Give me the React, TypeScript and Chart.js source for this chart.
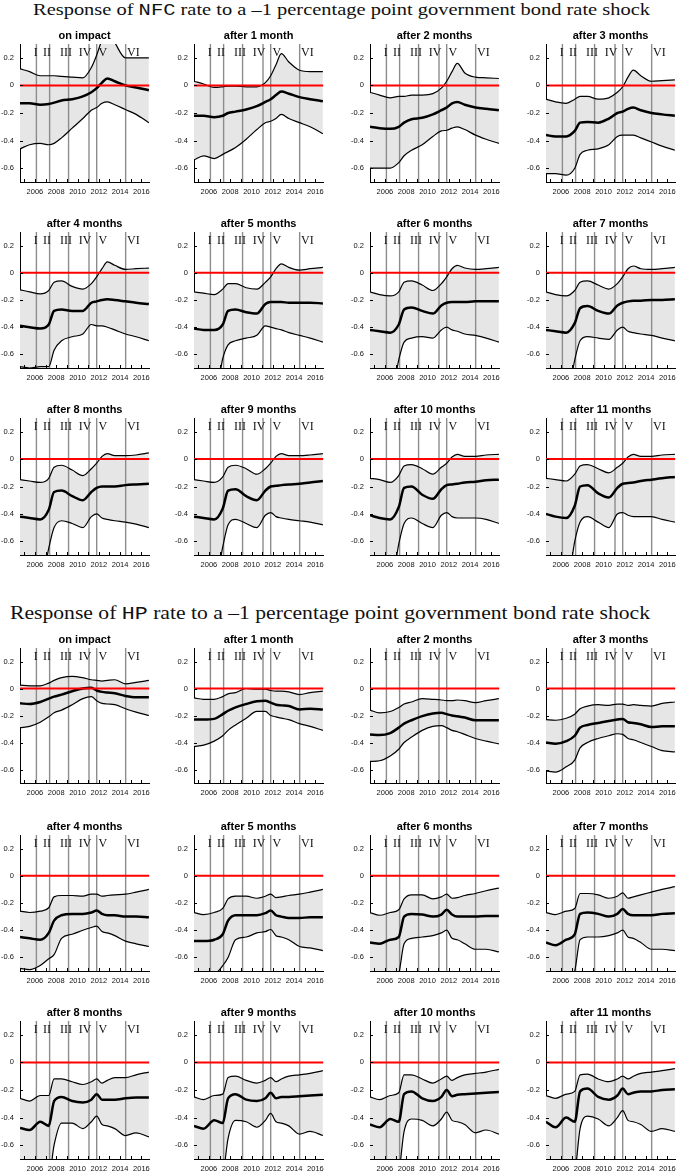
import { useEffect, useLayoutEffect, useRef } from "react";
import { Chart, registerables } from "chart.js";

Chart.register(...registerables);

const years = [2004.6, 2005.5, 2006.5, 2007.3, 2007.8, 2008.5, 2009.5, 2010.5, 2011.3, 2011.8, 2012.3, 2012.8, 2013.5, 2014.5, 2015.5, 2016.7];

const xMin = 2004.6;
const xMax = 2016.73;
const xTicks = [2006, 2008, 2010, 2012, 2014, 2016];
const xMinorTicks = [2005, 2006, 2007, 2008, 2009, 2010, 2011, 2012, 2013, 2014, 2015, 2016];
const yTicks = [-0.6, -0.4, -0.2, 0, 0.2];
const yTickLabels = ["-0.6", "-0.4", "-0.2", "0", "0.2"];

const regimeLines = [2006.14, 2007.38, 2009.16, 2011.08, 2011.8, 2014.52];
const regimeNames = ["I", "II", "III", "IV", "V", "VI"];
const regimeLabelX = [2006.08, 2007.13, 2008.92, 2010.71, 2012.38, 2015.25];

const panelTitles = [
    "on impact", "after 1 month", "after 2 months", "after 3 months",
    "after 4 months", "after 5 months", "after 6 months", "after 7 months",
    "after 8 months", "after 9 months", "after 10 months", "after 11 months",
];

// NFC rate responses
const nfcUpper = [
    [0.12, 0.10, 0.07, 0.07, 0.07, 0.065, 0.06, 0.055, 0.13, 0.22, 0.33, 0.4, 0.31, 0.2, 0.2, 0.2],
    [0.03, 0.01, -0.015, -0.01, -0.005, -0.005, -0.01, -0.01, 0.02, 0.07, 0.15, 0.23, 0.17, 0.11, 0.1, 0.1],
    [-0.05, -0.07, -0.09, -0.08, -0.08, -0.07, -0.07, -0.06, -0.02, 0.03, 0.1, 0.16, 0.09, 0.06, 0.055, 0.05],
    [-0.1, -0.12, -0.13, -0.1, -0.08, -0.08, -0.1, -0.09, -0.05, -0.01, 0.06, 0.11, 0.07, 0.03, 0.035, 0.04],
    [-0.125, -0.14, -0.155, -0.13, -0.07, -0.06, -0.1, -0.12, -0.08, -0.03, 0.03, 0.08, 0.055, 0.025, 0.03, 0.035],
    [-0.14, -0.15, -0.16, -0.12, -0.08, -0.08, -0.11, -0.12, -0.07, -0.03, 0.03, 0.065, 0.04, 0.02, 0.03, 0.04],
    [-0.14, -0.16, -0.17, -0.14, -0.07, -0.06, -0.09, -0.13, -0.08, -0.03, 0.03, 0.055, 0.035, 0.025, 0.03, 0.04],
    [-0.14, -0.16, -0.17, -0.13, -0.07, -0.06, -0.09, -0.12, -0.08, -0.03, 0.03, 0.05, 0.03, 0.025, 0.03, 0.04],
    [-0.15, -0.16, -0.17, -0.14, -0.06, -0.045, -0.08, -0.12, -0.07, -0.03, 0.02, 0.04, 0.025, 0.025, 0.03, 0.045],
    [-0.15, -0.16, -0.17, -0.13, -0.06, -0.045, -0.07, -0.11, -0.07, -0.03, 0.02, 0.04, 0.025, 0.025, 0.03, 0.04],
    [-0.14, -0.15, -0.17, -0.12, -0.05, -0.04, -0.07, -0.11, -0.06, -0.03, 0.015, 0.035, 0.02, 0.02, 0.03, 0.035],
    [-0.14, -0.15, -0.16, -0.11, -0.05, -0.04, -0.07, -0.1, -0.06, -0.03, 0.015, 0.035, 0.02, 0.02, 0.03, 0.035],
];
const nfcMedian = [
    [-0.13, -0.13, -0.14, -0.135, -0.125, -0.11, -0.1, -0.08, -0.05, -0.02, 0.02, 0.05, 0.03, 0.0, -0.015, -0.035],
    [-0.22, -0.22, -0.23, -0.22, -0.2, -0.19, -0.175, -0.15, -0.12, -0.1, -0.07, -0.045, -0.06, -0.085, -0.1, -0.115],
    [-0.3, -0.31, -0.315, -0.3, -0.27, -0.245, -0.235, -0.21, -0.18, -0.16, -0.13, -0.12, -0.14, -0.16, -0.17, -0.18],
    [-0.36, -0.37, -0.37, -0.33, -0.27, -0.265, -0.27, -0.24, -0.2, -0.19, -0.17, -0.16, -0.18, -0.2, -0.21, -0.22],
    [-0.39, -0.4, -0.41, -0.38, -0.28, -0.27, -0.28, -0.28, -0.22, -0.21, -0.2, -0.195, -0.2, -0.21, -0.22, -0.23],
    [-0.41, -0.42, -0.42, -0.38, -0.28, -0.27, -0.29, -0.3, -0.23, -0.215, -0.215, -0.215, -0.22, -0.22, -0.22, -0.225],
    [-0.42, -0.43, -0.44, -0.38, -0.27, -0.255, -0.28, -0.3, -0.24, -0.22, -0.215, -0.215, -0.215, -0.21, -0.21, -0.21],
    [-0.42, -0.43, -0.44, -0.37, -0.26, -0.245, -0.28, -0.3, -0.24, -0.22, -0.21, -0.205, -0.205, -0.2, -0.2, -0.195],
    [-0.42, -0.43, -0.44, -0.37, -0.24, -0.23, -0.27, -0.3, -0.24, -0.21, -0.2, -0.2, -0.2, -0.19, -0.185, -0.18],
    [-0.42, -0.43, -0.44, -0.36, -0.23, -0.22, -0.27, -0.3, -0.23, -0.2, -0.195, -0.19, -0.185, -0.18, -0.17, -0.16],
    [-0.41, -0.43, -0.44, -0.35, -0.21, -0.2, -0.26, -0.29, -0.22, -0.19, -0.185, -0.18, -0.17, -0.165, -0.155, -0.15],
    [-0.4, -0.42, -0.43, -0.34, -0.2, -0.19, -0.25, -0.28, -0.21, -0.18, -0.175, -0.17, -0.16, -0.15, -0.14, -0.13],
];
const nfcLower = [
    [-0.46, -0.43, -0.42, -0.43, -0.42, -0.38, -0.31, -0.24, -0.18, -0.16, -0.13, -0.12, -0.14, -0.175, -0.21, -0.27],
    [-0.54, -0.51, -0.53, -0.5, -0.48, -0.45, -0.39, -0.32, -0.27, -0.26, -0.24, -0.21, -0.24, -0.27, -0.3, -0.35],
    [-0.6, -0.6, -0.6, -0.56, -0.51, -0.47, -0.43, -0.37, -0.33, -0.325, -0.31, -0.3, -0.32, -0.36, -0.39, -0.42],
    [-0.64, -0.64, -0.65, -0.6, -0.5, -0.47, -0.46, -0.43, -0.37, -0.36, -0.36, -0.36, -0.38, -0.41, -0.44, -0.47],
    [-0.69, -0.7, -0.69, -0.69, -0.57, -0.5, -0.47, -0.45, -0.38, -0.39, -0.39, -0.4, -0.42, -0.45, -0.47, -0.5],
    [-0.85, -0.9, -0.95, -0.63, -0.53, -0.5, -0.48, -0.46, -0.39, -0.4, -0.41, -0.42, -0.44, -0.46, -0.48, -0.51],
    [-0.9, -0.95, -0.95, -0.64, -0.51, -0.48, -0.47, -0.48, -0.42, -0.4, -0.42, -0.43, -0.45, -0.46, -0.48, -0.51],
    [-0.9, -0.95, -0.95, -0.64, -0.5, -0.47, -0.48, -0.49, -0.42, -0.4, -0.43, -0.44, -0.45, -0.46, -0.48, -0.5],
    [-0.9, -0.95, -0.95, -0.65, -0.5, -0.45, -0.47, -0.5, -0.42, -0.4, -0.43, -0.44, -0.45, -0.46, -0.475, -0.5],
    [-0.9, -0.95, -0.95, -0.64, -0.48, -0.44, -0.47, -0.5, -0.41, -0.39, -0.42, -0.43, -0.44, -0.45, -0.46, -0.48],
    [-0.9, -0.95, -0.95, -0.62, -0.47, -0.43, -0.47, -0.5, -0.41, -0.39, -0.42, -0.43, -0.43, -0.43, -0.44, -0.47],
    [-0.9, -0.95, -0.95, -0.6, -0.46, -0.42, -0.46, -0.5, -0.4, -0.39, -0.41, -0.42, -0.42, -0.42, -0.44, -0.46],
];

// HP rate responses
const hpUpper = [
    [0.025, 0.02, 0.02, 0.04, 0.06, 0.08, 0.09, 0.08, 0.065, 0.06, 0.055, 0.06, 0.065, 0.035, 0.045, 0.06],
    [-0.07, -0.08, -0.08, -0.06, -0.04, -0.03, 0.0, -0.005, -0.005, -0.015, -0.02, -0.02, -0.025, -0.045, -0.03, -0.02],
    [-0.16, -0.18, -0.17, -0.14, -0.115, -0.1, -0.075, -0.08, -0.085, -0.09, -0.09, -0.085, -0.09, -0.105, -0.09, -0.075],
    [-0.23, -0.235, -0.22, -0.19, -0.15, -0.13, -0.12, -0.125, -0.115, -0.115, -0.125, -0.12, -0.125, -0.13, -0.11, -0.1],
    [-0.26, -0.27, -0.26, -0.235, -0.155, -0.145, -0.145, -0.15, -0.135, -0.135, -0.15, -0.145, -0.14, -0.135, -0.12, -0.1],
    [-0.27, -0.285, -0.27, -0.24, -0.17, -0.15, -0.15, -0.165, -0.15, -0.135, -0.16, -0.155, -0.145, -0.135, -0.12, -0.1],
    [-0.27, -0.29, -0.27, -0.25, -0.17, -0.14, -0.14, -0.17, -0.155, -0.135, -0.165, -0.16, -0.145, -0.13, -0.11, -0.09],
    [-0.27, -0.285, -0.26, -0.24, -0.13, -0.13, -0.14, -0.165, -0.15, -0.125, -0.165, -0.155, -0.14, -0.12, -0.1, -0.08],
    [-0.26, -0.28, -0.24, -0.24, -0.12, -0.12, -0.14, -0.16, -0.14, -0.12, -0.15, -0.13, -0.11, -0.11, -0.09, -0.07],
    [-0.25, -0.27, -0.24, -0.23, -0.11, -0.1, -0.13, -0.15, -0.13, -0.11, -0.14, -0.12, -0.1, -0.09, -0.08, -0.06],
    [-0.25, -0.27, -0.24, -0.22, -0.09, -0.09, -0.12, -0.15, -0.12, -0.1, -0.13, -0.11, -0.09, -0.08, -0.07, -0.05],
    [-0.24, -0.26, -0.23, -0.21, -0.09, -0.085, -0.12, -0.14, -0.12, -0.1, -0.12, -0.1, -0.08, -0.07, -0.06, -0.045],
];
const hpMedian = [
    [-0.11, -0.115, -0.1, -0.075, -0.06, -0.045, -0.02, 0.0, 0.005, -0.015, -0.025, -0.03, -0.035, -0.055, -0.065, -0.065],
    [-0.23, -0.23, -0.225, -0.19, -0.165, -0.14, -0.115, -0.095, -0.09, -0.105, -0.12, -0.125, -0.13, -0.155, -0.15, -0.155],
    [-0.34, -0.345, -0.33, -0.29, -0.26, -0.235, -0.205, -0.185, -0.18, -0.19, -0.2, -0.205, -0.215, -0.235, -0.235, -0.235],
    [-0.4, -0.41, -0.39, -0.35, -0.29, -0.27, -0.255, -0.24, -0.23, -0.225, -0.25, -0.255, -0.265, -0.285, -0.28, -0.28],
    [-0.45, -0.46, -0.47, -0.42, -0.33, -0.29, -0.28, -0.28, -0.27, -0.255, -0.28, -0.29, -0.29, -0.3, -0.3, -0.305],
    [-0.48, -0.48, -0.47, -0.43, -0.33, -0.29, -0.29, -0.29, -0.275, -0.255, -0.29, -0.3, -0.31, -0.31, -0.305, -0.305],
    [-0.49, -0.5, -0.47, -0.45, -0.3, -0.28, -0.285, -0.3, -0.285, -0.25, -0.285, -0.3, -0.3, -0.3, -0.295, -0.295],
    [-0.49, -0.51, -0.47, -0.43, -0.28, -0.27, -0.28, -0.3, -0.28, -0.245, -0.28, -0.29, -0.29, -0.29, -0.28, -0.275],
    [-0.475, -0.49, -0.43, -0.46, -0.28, -0.25, -0.28, -0.29, -0.27, -0.23, -0.27, -0.27, -0.27, -0.26, -0.255, -0.255],
    [-0.46, -0.48, -0.42, -0.44, -0.26, -0.23, -0.27, -0.28, -0.26, -0.22, -0.26, -0.25, -0.25, -0.245, -0.24, -0.235],
    [-0.45, -0.47, -0.41, -0.43, -0.23, -0.21, -0.26, -0.28, -0.25, -0.2, -0.245, -0.235, -0.23, -0.225, -0.22, -0.215],
    [-0.43, -0.47, -0.4, -0.43, -0.21, -0.19, -0.25, -0.27, -0.24, -0.19, -0.23, -0.22, -0.21, -0.21, -0.2, -0.195],
];
const hpLower = [
    [-0.29, -0.28, -0.25, -0.21, -0.18, -0.16, -0.12, -0.075, -0.06, -0.09, -0.11, -0.115, -0.12, -0.15, -0.175, -0.2],
    [-0.43, -0.42, -0.39, -0.35, -0.31, -0.27, -0.22, -0.17, -0.17, -0.2, -0.21, -0.22, -0.23, -0.26, -0.28, -0.31],
    [-0.54, -0.535, -0.5, -0.45, -0.4, -0.36, -0.31, -0.28, -0.275, -0.29, -0.31, -0.32, -0.34, -0.37, -0.39, -0.41],
    [-0.61, -0.62, -0.58, -0.53, -0.44, -0.4, -0.37, -0.35, -0.335, -0.34, -0.37, -0.38, -0.4, -0.43, -0.46, -0.47],
    [-0.68, -0.69, -0.66, -0.61, -0.58, -0.46, -0.43, -0.4, -0.38, -0.37, -0.41, -0.42, -0.44, -0.48, -0.5, -0.52],
    [-0.72, -0.75, -0.73, -0.66, -0.6, -0.47, -0.45, -0.42, -0.41, -0.395, -0.44, -0.45, -0.47, -0.52, -0.53, -0.55],
    [-0.8, -0.85, -0.8, -0.72, -0.5, -0.46, -0.45, -0.44, -0.42, -0.4, -0.46, -0.47, -0.5, -0.54, -0.54, -0.56],
    [-0.8, -0.85, -0.8, -0.7, -0.47, -0.45, -0.45, -0.44, -0.42, -0.4, -0.45, -0.46, -0.49, -0.54, -0.54, -0.55],
    [-0.85, -0.9, -0.88, -0.85, -0.6, -0.44, -0.44, -0.48, -0.43, -0.39, -0.45, -0.46, -0.48, -0.53, -0.51, -0.54],
    [-0.85, -0.9, -0.88, -0.82, -0.55, -0.42, -0.43, -0.47, -0.42, -0.37, -0.43, -0.44, -0.46, -0.52, -0.5, -0.53],
    [-0.85, -0.9, -0.88, -0.8, -0.5, -0.41, -0.42, -0.46, -0.41, -0.36, -0.42, -0.43, -0.45, -0.51, -0.49, -0.52],
    [-0.85, -0.9, -0.88, -0.8, -0.48, -0.39, -0.41, -0.46, -0.4, -0.35, -0.42, -0.43, -0.45, -0.5, -0.48, -0.5],
];

// page layout (px)
const colLefts = [20, 194, 370, 546];
const plotW = 131;
const rowTops = [44, 232, 418, 648, 835, 1021];
const rowBottoms = [182, 368, 555, 783, 971, 1159];
const padTop = 22;
const axisW = 20;
const axisH = 20;
const padRight = 4;

const decoPlugin = {
    id: "deco",
    beforeDatasetsDraw(chart: any) {
        const {ctx, chartArea: a, scales} = chart;
        ctx.save();
        ctx.strokeStyle = "#8c8c8c";
        ctx.lineWidth = 1.4;
        regimeLines.forEach((v) => {
            const x = scales.x.getPixelForValue(v);
            ctx.beginPath();
            ctx.moveTo(x, a.top);
            ctx.lineTo(x, a.bottom);
            ctx.stroke();
        });
        ctx.restore();
    },
    afterDatasetsDraw(chart: any, _args: any, opts: any) {
        const {ctx, chartArea: a, scales} = chart;
        ctx.save();
        // zero line
        const y0 = scales.y.getPixelForValue(0);
        ctx.strokeStyle = "#ff0000";
        ctx.lineWidth = 2;
        ctx.beginPath();
        ctx.moveTo(a.left, y0);
        ctx.lineTo(a.right, y0);
        ctx.stroke();
        // regime labels
        ctx.fillStyle = "#111";
        ctx.font = '12px "Liberation Serif"';
        ctx.textAlign = "center";
        ctx.textBaseline = "middle";
        regimeNames.forEach((n, i) => {
            ctx.fillText(n, scales.x.getPixelForValue(regimeLabelX[i]), a.top + 9);
        });
        // inward ticks
        ctx.strokeStyle = "#000";
        ctx.lineWidth = 1;
        ctx.beginPath();
        xMinorTicks.forEach((v) => {
            const x = Math.round(scales.x.getPixelForValue(v)) + 0.5;
            ctx.moveTo(x, a.bottom);
            ctx.lineTo(x, a.bottom - 3);
        });
        yTicks.forEach((v) => {
            const y = Math.round(scales.y.getPixelForValue(v)) + 0.5;
            ctx.moveTo(a.left, y);
            ctx.lineTo(a.left + 3, y);
        });
        ctx.stroke();
        // panel title
        ctx.fillStyle = "#000";
        ctx.font = 'bold 11px "Liberation Sans"';
        ctx.fillText(opts.title, (a.left + a.right) / 2, a.top - 8.5);
        ctx.restore();
    },
};

type PanelProps = {
    left: number;
    top: number;
    plotH: number;
    title: string;
    upper: number[];
    median: number[];
    lower: number[];
};

const Panel = ({left, top, plotH, title, upper, median, lower}: PanelProps) => {
    const canvasRef = useRef<HTMLCanvasElement>(null);
    const w = axisW + plotW + padRight;
    const h = padTop + plotH + axisH;

    useEffect(() => {
        if (!canvasRef.current) return;
        const pts = (vals: number[]) => years.map((x, i) => ({x, y: vals[i]}));
        const line = {
            pointRadius: 0,
            borderColor: "#000",
            cubicInterpolationMode: "monotone" as const,
            clip: 0,
        };
        const chart = new Chart(canvasRef.current, {
            type: "line",
            data: {
                datasets: [
                    {...line, data: pts(upper), borderWidth: 1.2, fill: "+1", backgroundColor: "#e6e6e6"},
                    {...line, data: pts(lower), borderWidth: 1.2, fill: false},
                    {...line, data: pts(median), borderWidth: 2.5, fill: false},
                ],
            },
            options: {
                responsive: false,
                animation: false,
                events: [],
                layout: {padding: {top: padTop, right: padRight, left: 0, bottom: 0}},
                plugins: {
                    legend: {display: false},
                    tooltip: {enabled: false},
                    filler: {drawTime: "beforeDatasetsDraw", propagate: false},
                    deco: {title},
                } as any,
                scales: {
                    x: {
                        type: "linear",
                        min: xMin,
                        max: xMax,
                        grid: {display: false, drawTicks: false},
                        border: {display: true, color: "#000", width: 1},
                        ticks: {
                            autoSkip: false,
                            maxRotation: 0,
                            padding: 5,
                            color: "#111",
                            font: {family: "Liberation Sans", size: 7.5},
                            callback: (v: any) => String(v),
                        },
                        afterBuildTicks: (s: any) => {
                            s.ticks = xTicks.map((v) => ({value: v}));
                        },
                        afterFit: (s: any) => {
                            s.height = axisH;
                        },
                    },
                    y: {
                        type: "linear",
                        min: -0.7,
                        max: 0.3,
                        grid: {display: false, drawTicks: false},
                        border: {display: true, color: "#000", width: 1},
                        ticks: {
                            padding: 6,
                            color: "#111",
                            font: {family: "Liberation Sans", size: 7.5},
                            callback: (v: any) => {
                                const i = yTicks.findIndex((t) => Math.abs(t - v) < 1e-6);
                                return i >= 0 ? yTickLabels[i] : "";
                            },
                        },
                        afterBuildTicks: (s: any) => {
                            s.ticks = yTicks.map((v) => ({value: v}));
                        },
                        afterFit: (s: any) => {
                            s.width = axisW;
                        },
                    },
                },
            },
            plugins: [decoPlugin],
        });
        return () => {
            chart.destroy();
        };
    }, [title, upper, median, lower, plotH]);

    return (
        <canvas
            ref={canvasRef}
            width={w}
            height={h}
            style={{position: "absolute", left, top, width: w, height: h}}
        />
    );
};

type TitleProps = { left: number; top: number; width: number; size: number; code: string };

const SectionTitle = ({left, top, width, size, code}: TitleProps) => {
    const ref = useRef<HTMLDivElement>(null);
    useLayoutEffect(() => {
        const el = ref.current;
        if (!el) return;
        el.style.transform = "none";
        const r = el.getBoundingClientRect().width;
        if (r > 0) el.style.transform = `scaleX(${width / r})`;
    }, [width]);
    return (
        <div
            ref={ref}
            style={{
                position: "absolute",
                left,
                top,
                whiteSpace: "nowrap",
                fontFamily: '"Liberation Serif"',
                fontSize: size,
                lineHeight: `${size}px`,
                transformOrigin: "left top",
                color: "#111",
            }}
        >
            Response of <span style={{fontFamily: '"Liberation Mono"'}}>{code}</span> rate to a –1 percentage point government bond rate shock
        </div>
    );
};

const sections = [
    {code: "NFC", upper: nfcUpper, median: nfcMedian, lower: nfcLower, titleLeft: 33, titleTop: 1, titleWidth: 617, titleSize: 17},
    {code: "HP", upper: hpUpper, median: hpMedian, lower: hpLower, titleLeft: 10, titleTop: 604, titleWidth: 640, titleSize: 18},
];

export default function App() {
    return (
        <div style={{position: "absolute", left: 0, top: 0, width: 685, height: 1173, background: "#fff", overflow: "hidden"}}>
            {sections.map((s, si) => (
                <div key={s.code}>
                    <SectionTitle left={s.titleLeft} top={s.titleTop} width={s.titleWidth} size={s.titleSize} code={s.code}/>
                    {panelTitles.map((t, i) => {
                        const row = si * 3 + Math.floor(i / 4);
                        const col = i % 4;
                        return (
                            <Panel
                                key={t}
                                left={colLefts[col] - axisW}
                                top={rowTops[row] - padTop}
                                plotH={rowBottoms[row] - rowTops[row]}
                                title={t}
                                upper={s.upper[i]}
                                median={s.median[i]}
                                lower={s.lower[i]}
                            />
                        );
                    })}
                </div>
            ))}
        </div>
    );
}
